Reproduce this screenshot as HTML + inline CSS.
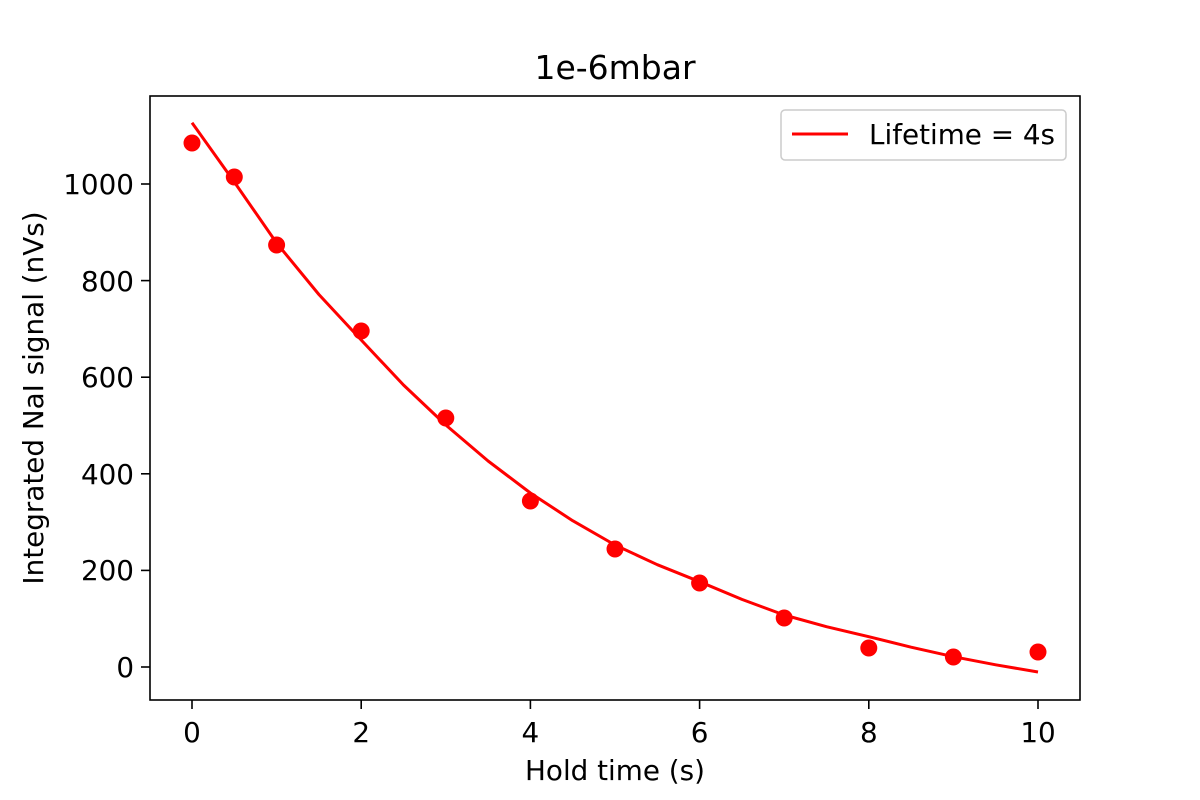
<!DOCTYPE html>
<html><head><meta charset="utf-8"><style>body{margin:0;background:#fff}svg{display:block}text{font-family:"DejaVu Sans","Liberation Sans",sans-serif;fill:#000}</style></head><body>
<svg width="1200" height="800" viewBox="0 0 1200 800">
<rect width="1200" height="800" fill="#fff"/>
<polyline fill="none" stroke="#f00" stroke-width="3" stroke-linejoin="round" points="192,122.7 234.3,182 276.6,243 318.9,294.5 361.2,340 403.5,385 445.8,425 488.1,461 530.4,493 572.7,520.7 615,545 657.3,564.7 699.6,581.7 741.9,599.4 784.2,615 826.5,626.7 868.8,636.7 911.1,647.2 953.4,656.7 995.7,664.8 1038,672"/>
<g fill="#f00">
<circle cx="192" cy="143" r="8.5"/><circle cx="234.3" cy="177" r="8.5"/><circle cx="276.6" cy="245" r="8.5"/><circle cx="361.2" cy="331" r="8.5"/><circle cx="445.8" cy="418" r="8.5"/><circle cx="530.4" cy="501" r="8.5"/><circle cx="615" cy="549" r="8.5"/><circle cx="699.6" cy="583" r="8.5"/><circle cx="784.2" cy="618" r="8.5"/><circle cx="868.8" cy="648" r="8.5"/><circle cx="953.4" cy="657" r="8.5"/><circle cx="1038" cy="652" r="8.5"/>
</g>
<rect x="150" y="96" width="930" height="604" fill="none" stroke="#000" stroke-width="1.6"/>
<g stroke="#000" stroke-width="1.6">
<line x1="192" y1="700" x2="192" y2="709"/><line x1="361.2" y1="700" x2="361.2" y2="709"/><line x1="530.4" y1="700" x2="530.4" y2="709"/><line x1="699.6" y1="700" x2="699.6" y2="709"/><line x1="868.8" y1="700" x2="868.8" y2="709"/><line x1="1038" y1="700" x2="1038" y2="709"/>
<line x1="141" y1="667" x2="150" y2="667"/><line x1="141" y1="570.4" x2="150" y2="570.4"/><line x1="141" y1="473.8" x2="150" y2="473.8"/><line x1="141" y1="377.2" x2="150" y2="377.2"/><line x1="141" y1="280.6" x2="150" y2="280.6"/><line x1="141" y1="184" x2="150" y2="184"/>
</g>
<g font-size="27.8" text-anchor="middle">
<text x="192" y="742">0</text><text x="361.2" y="742">2</text><text x="530.4" y="742">4</text><text x="699.6" y="742">6</text><text x="868.8" y="742">8</text><text x="1038" y="742">10</text>
</g>
<g font-size="27.8" text-anchor="end">
<text x="134" y="677">0</text><text x="134" y="580">200</text><text x="134" y="484">400</text><text x="134" y="387">600</text><text x="134" y="291">800</text><text x="134" y="194">1000</text>
</g>
<text x="615" y="780" font-size="27.8" text-anchor="middle">Hold time (s)</text>
<text transform="translate(43,398) rotate(-90)" font-size="27.8" text-anchor="middle">Integrated NaI signal (nVs)</text>
<text x="615" y="79" font-size="33" text-anchor="middle">1e-6mbar</text>
<rect x="781" y="110" width="285" height="50" rx="4" fill="#fff" stroke="#ccc" stroke-width="1.5"/>
<line x1="792" y1="134" x2="848" y2="134" stroke="#f00" stroke-width="3"/>
<text x="869" y="144" font-size="27.8">Lifetime = 4s</text>
</svg>
</body></html>
